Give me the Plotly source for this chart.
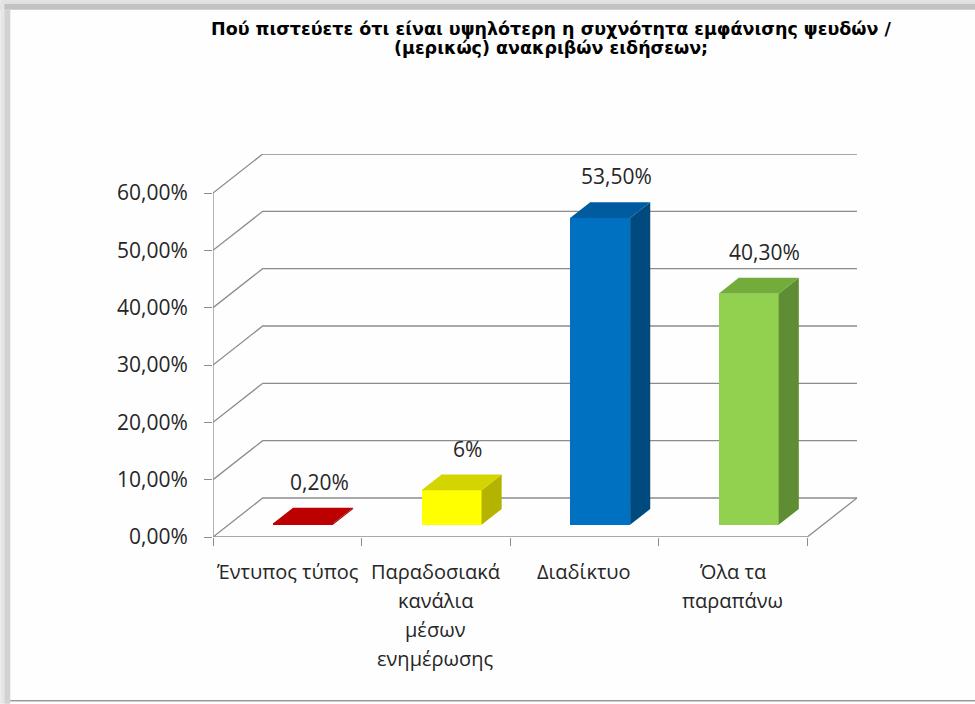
import plotly.graph_objects as go

# ---------------- data ----------------
categories = ["Έντυπος τύπος", "Παραδοσιακά κανάλια μέσων ενημέρωσης", "Διαδίκτυο", "Όλα τα παραπάνω"]
category_lines = [["Έντυπος τύπος"], ["Παραδοσιακά", "κανάλια", "μέσων", "ενημέρωσης"], ["Διαδίκτυο"], ["Όλα τα", "παραπάνω"]]
values = [0.2, 6.0, 53.5, 40.3]
value_labels = ["0,20%", "6%", "53,50%", "40,30%"]
y_ticks = [0, 10, 20, 30, 40, 50, 60]
y_tick_labels = ["0,00%", "10,00%", "20,00%", "30,00%", "40,00%", "50,00%", "60,00%"]
title_lines = ["Πού πιστεύετε ότι είναι υψηλότερη η συχνότητα εμφάνισης ψευδών /", "(μερικώς) ανακριβών ειδήσεων;"]

front_colors = ["#C00000", "#FFFF00", "#0070C0", "#92D050"]
top_colors = ["#BC0000", "#D4D400", "#005C9E", "#74AC3C"]
side_colors = ["#8E0000", "#B4B400", "#004A80", "#5F8D34"]

# ---------------- geometry ----------------
W, H = 975, 704
L_PX, R_PX, T_PX, B_PX = 212.7, 856.7, 154.3, 537.3
CAT_PX = 148.5
PX_PER_PCT = (537.3 - 193.3) / 60.0
DX = 49.7 / CAT_PX          # depth offset in x units
DY = 39.0 / PX_PER_PCT      # depth offset in y units
BW = 60.0 / CAT_PX          # bar width
F0, F1 = 0.315, 0.72        # bar depth range (fraction of floor depth)
n = len(categories)
XMAX = n + DX
YMAX = y_ticks[-1] + DY

GRID = "#8C8C8C"
TXT = "#262626"
FONT = "Open Sans"


def pxx(p):
    return (p - L_PX) / (R_PX - L_PX)


def pxy(p):
    return (B_PX - p) / (B_PX - T_PX)


fig = go.Figure()

# back wall gridlines + floor (drawn as shapes below traces)
shapes = []
for v in y_ticks:
    shapes.append(dict(type="path", xref="x", yref="y", layer="below",
                       path=f"M 0 {v} L {DX} {v + DY} L {n + DX} {v + DY}",
                       line=dict(color=GRID, width=1.3)))
shapes.append(dict(type="path", xref="x", yref="y", layer="below",
                   path=f"M 0 0 L {n} 0 L {n + DX} {DY}",
                   line=dict(color=GRID, width=1.3)))
shapes.append(dict(type="line", xref="x", yref="y", layer="below",
                   x0=0, x1=0, y0=0, y1=y_ticks[-1], line=dict(color=GRID, width=1.3)))

# frame decoration
shapes.append(dict(type="rect", xref="paper", yref="paper", layer="below",
                   x0=pxx(0), x1=pxx(W), y0=pxy(0), y1=pxy(4), fillcolor="#E2E2E2", line=dict(width=0)))
shapes.append(dict(type="rect", xref="paper", yref="paper", layer="below",
                   x0=pxx(0), x1=pxx(W), y0=pxy(4), y1=pxy(10), fillcolor="#C2C2C2", line=dict(width=0)))
shapes.append(dict(type="rect", xref="paper", yref="paper", layer="below",
                   x0=pxx(0), x1=pxx(4), y0=pxy(4), y1=pxy(H), fillcolor="#E6E6E6", line=dict(width=0)))
shapes.append(dict(type="rect", xref="paper", yref="paper", layer="below",
                   x0=pxx(4), x1=pxx(10), y0=pxy(10), y1=pxy(H), fillcolor="#D2D2D2", line=dict(width=0)))
shapes.append(dict(type="line", xref="paper", yref="paper", layer="below",
                   x0=pxx(10), x1=pxx(W), y0=pxy(701), y1=pxy(701), line=dict(color="#9A9A9A", width=1.5)))

# front faces of bars
centers = [i + 0.5 + F0 * DX for i in range(n)]
fig.add_trace(go.Bar(x=centers, y=values, base=[F0 * DY] * n, width=BW,
                     marker=dict(color=front_colors, line=dict(width=0)),
                     hoverinfo="skip", showlegend=False))

# top and side faces
ddx = (F1 - F0) * DX
ddy = (F1 - F0) * DY
for i, v in enumerate(values):
    xl = centers[i] - BW / 2
    xr = centers[i] + BW / 2
    b = F0 * DY
    fig.add_trace(go.Scatter(x=[xr, xr + ddx, xr + ddx, xr, xr], y=[b, b + ddy, b + v + ddy, b + v, b],
                             fill="toself", fillcolor=side_colors[i], mode="lines",
                             line=dict(width=0, color=side_colors[i]), hoverinfo="skip", showlegend=False))
    fig.add_trace(go.Scatter(x=[xl, xr, xr + ddx, xl + ddx, xl], y=[b + v, b + v, b + v + ddy, b + v + ddy, b + v],
                             fill="toself", fillcolor=top_colors[i], mode="lines",
                             line=dict(width=0, color=top_colors[i]), hoverinfo="skip", showlegend=False))

annotations = []
# value labels
for i, v in enumerate(values):
    annotations.append(dict(x=centers[i] + ddx / 2, y=F1 * DY + v, xref="x", yref="y",
                            text=value_labels[i], showarrow=False, xshift=6, yshift=26,
                            yanchor="middle", xanchor="center",
                            font=dict(family=FONT, size=21, color=TXT)))
# category labels
for i, lines in enumerate(category_lines):
    for k, line in enumerate(lines):
        annotations.append(dict(x=i + 0.5, y=0, xref="x", yref="y", text=line, showarrow=False,
                                yshift=-(34 + 29 * k), yanchor="middle", xanchor="center",
                                font=dict(family=FONT, size=20, color=TXT)))
# title
for k, line in enumerate(title_lines):
    annotations.append(dict(x=pxx(551), y=pxy(29 + 19.5 * k), xref="paper", yref="paper",
                            text=f"<b>{line}</b>", showarrow=False, xanchor="center", yanchor="middle",
                            font=dict(family="DejaVu Sans", size=17.5, color="#000000")))

fig.update_layout(
    width=W, height=H,
    margin=dict(l=L_PX, r=W - R_PX, t=T_PX, b=H - B_PX, pad=0),
    paper_bgcolor="#FEFEFE", plot_bgcolor="rgba(0,0,0,0)",
    shapes=shapes, annotations=annotations, showlegend=False, bargap=0,
    xaxis=dict(range=[0, XMAX], showgrid=False, zeroline=False, showline=False,
               tickmode="array", tickvals=list(range(n + 1)), showticklabels=False,
               ticks="outside", ticklen=8, tickcolor=GRID, tickwidth=1.3, automargin=False, fixedrange=True),
    yaxis=dict(range=[0, YMAX], showgrid=False, zeroline=False, showline=False,
               tickmode="array", tickvals=y_ticks, ticktext=y_tick_labels,
               ticks="outside", ticklen=8, tickcolor=GRID, tickwidth=1.3, ticklabelstandoff=12,
               tickfont=dict(family=FONT, size=21, color=TXT), automargin=False, fixedrange=True),
)

fig.write_html("out.html", config={"displayModeBar": False},
               post_script="document.body.style.margin='0px';document.body.style.overflow='hidden';")
